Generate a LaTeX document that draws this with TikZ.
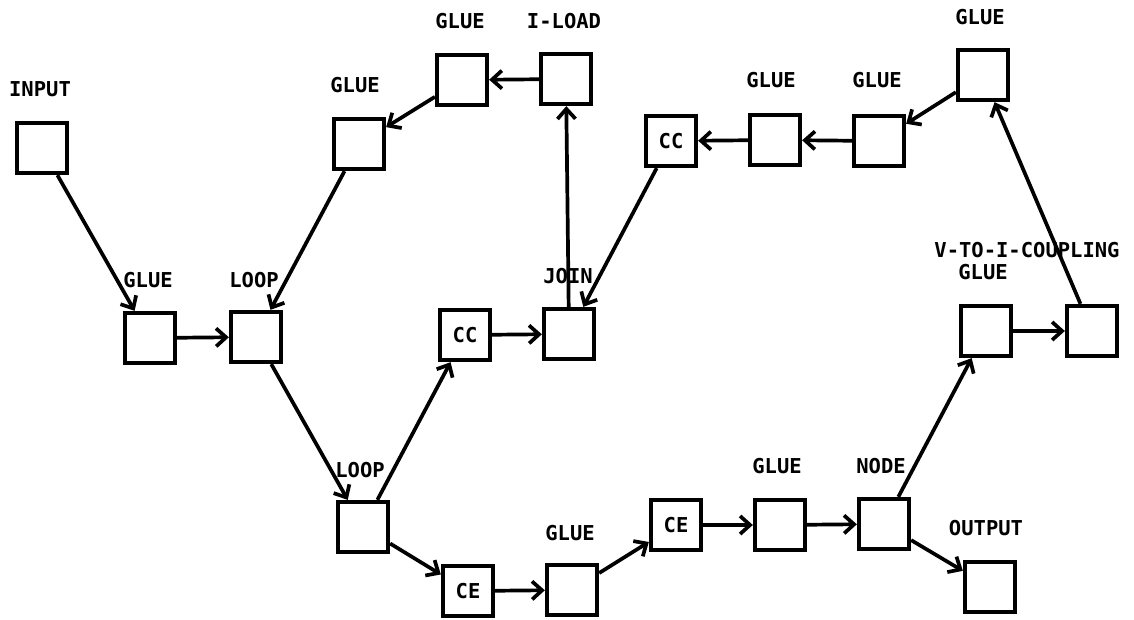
\documentclass[tikz,border=0pt]{standalone}
\usepackage{fontspec}
\setmonofont{DejaVu Sans Mono}
\usetikzlibrary{arrows.meta}
\begin{document}
\begin{tikzpicture}[x=1pt,y=-1pt,
  blk/.style={draw=black,line width=4.3pt,minimum size=50pt,inner sep=0pt,
    font=\ttfamily\bfseries\fontsize{20.5}{24}\selectfont},
  lbl/.style={anchor=base,inner sep=0pt,font=\ttfamily\bfseries\fontsize{20.5}{24}\selectfont},
  conn/.style={line width=3.7pt,-{Straight Barb[length=10pt,width=18pt,line width=3.7pt]}}]
\useasboundingbox (0,0) rectangle (1134,620);
% boxes
\node[blk] (in) at (42,148) {};
\node[blk] (g1) at (150,338) {};
\node[blk] (loopa) at (256,337) {};
\node[blk] (g2) at (359,144) {};
\node[blk] (g3) at (462,80) {};
\node[blk] (iload) at (566,79) {};
\node[blk] (cca) at (671,141) {CC};
\node[blk] (g4) at (775,140) {};
\node[blk] (g5) at (879,141) {};
\node[blk] (g6) at (983,75) {};
\node[blk] (join) at (569,334) {};
\node[blk] (ccb) at (465,335) {CC};
\node[blk] (loopb) at (363,527) {};
\node[blk] (cea) at (468,591) {CE};
\node[blk] (g7) at (572,590) {};
\node[blk] (ceb) at (676,525) {CE};
\node[blk] (g8) at (780,525) {};
\node[blk] (nd) at (884,524) {};
\node[blk] (out) at (990,587) {};
\node[blk] (g9) at (986,331) {};
\node[blk] (vti) at (1092,331) {};
% labels
\node[lbl] (l1) at (40,97) {INPUT};
\node[lbl] (l2) at (148,287) {GLUE};
\node[lbl] (l3) at (254,287) {LOOP};
\node[lbl] (l4) at (355,93) {GLUE};
\node[lbl] (l5) at (460,29) {GLUE};
\node[lbl] (l6) at (564,29) {I-LOAD};
\node[lbl] (l7) at (771,88) {GLUE};
\node[lbl] (l8) at (877,88) {GLUE};
\node[lbl] (l9) at (980,25) {GLUE};
\node[lbl] (l10) at (568,283) {JOIN};
\node[lbl] (l11) at (1027,258) {V-TO-I-COUPLING};
\node[lbl] (l12) at (983,279) {GLUE};
\node[lbl] (l13) at (360,477) {LOOP};
\node[lbl] (l14) at (570,540) {GLUE};
\node[lbl] (l15) at (777,473) {GLUE};
\node[lbl] (l16) at (881,473) {NODE};
\node[lbl] (l17) at (986,535) {OUTPUT};
% connectors
\draw[conn] (in) -- (g1);
\draw[conn] (g1) -- (loopa);
\draw[conn] (g2) -- (loopa);
\draw[conn] (g3) -- (g2);
\draw[conn] (iload) -- (g3);
\draw[conn] (join) -- (iload);
\draw[conn] (cca) -- (join);
\draw[conn] (g4) -- (cca);
\draw[conn] (g5) -- (g4);
\draw[conn] (g6) -- (g5);
\draw[conn] (vti) -- (g6);
\draw[conn] (g9) -- (vti);
\draw[conn] (nd) -- (g9);
\draw[conn] (nd) -- (out);
\draw[conn] (g8) -- (nd);
\draw[conn] (ceb) -- (g8);
\draw[conn] (g7) -- (ceb);
\draw[conn] (cea) -- (g7);
\draw[conn] (loopb) -- (cea);
\draw[conn] (loopb) -- (ccb);
\draw[conn] (ccb) -- (join);
\draw[conn] (loopa) -- (loopb);
\end{tikzpicture}
\end{document}
